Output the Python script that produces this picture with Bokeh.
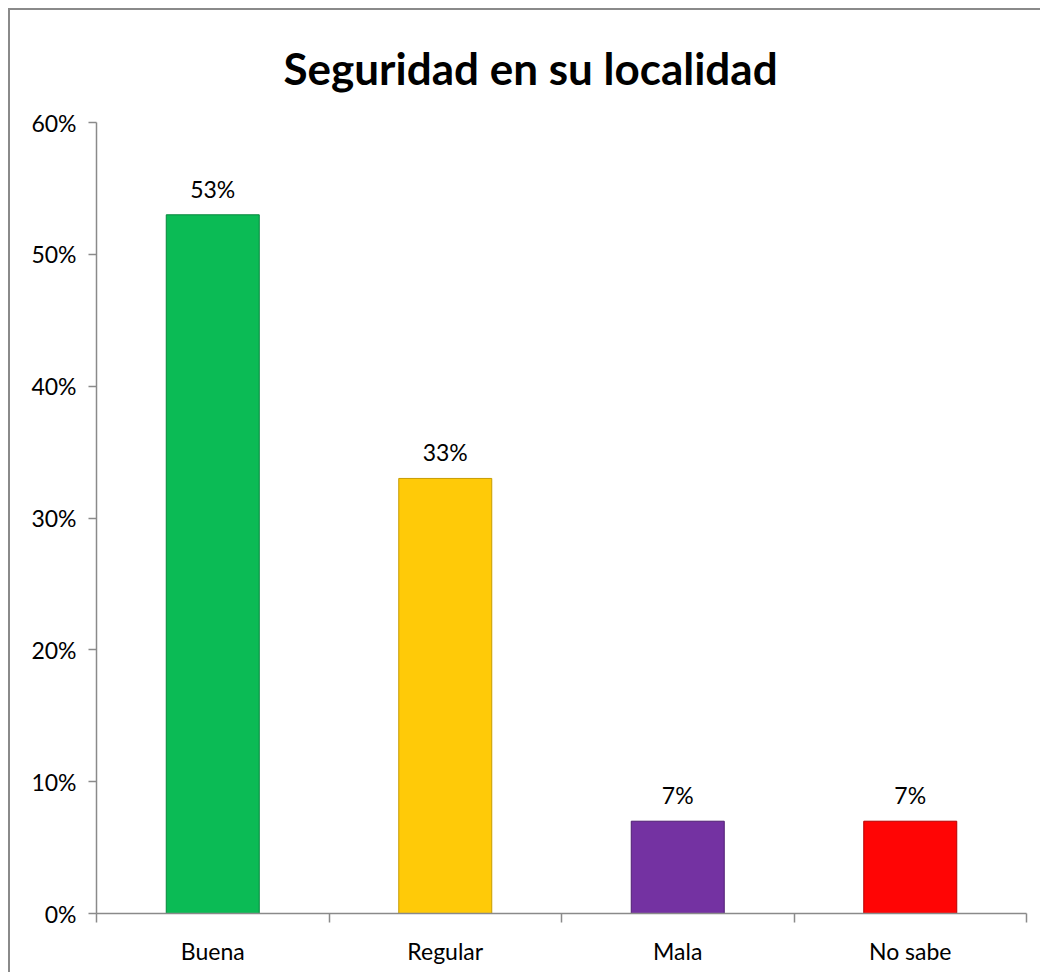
from bokeh.plotting import figure
from bokeh.models import ColumnDataSource, Range1d, FixedTicker, NumeralTickFormatter
from bokeh.core.properties import value
from bokeh.embed import file_html
from bokeh.resources import INLINE

categories = ["Buena", "Regular", "Mala", "No sabe"]
values = [0.53, 0.33, 0.07, 0.07]
labels = ["53%", "33%", "7%", "7%"]
colors = ["#0BBB55", "#FFCA08", "#7432A2", "#FF0505"]
edge_colors = ["#07863D", "#C79C00", "#4F1F72", "#B50000"]
title_text = "Seguridad en su localidad"

xs = [i + 0.5 for i in range(len(categories))]
src = ColumnDataSource(dict(x=xs, top=values, color=colors, edge=edge_colors, lab=labels))

FONT = "Lato"
p = figure(width=1032, height=964, output_backend="svg", toolbar_location=None,
           x_range=Range1d(0, len(categories)), y_range=Range1d(0, 0.6),
           min_border_left=86, min_border_right=16, min_border_top=112, min_border_bottom=61)
p.styles = {"border-left": "2px solid #8a8a8a", "border-top": "2px solid #8a8a8a",
            "margin-left": "8px", "margin-top": "8px"}
p.outline_line_color = None
p.xgrid.visible = False
p.ygrid.visible = False

p.title.text = title_text
p.title.align = "left"
p.title.offset = 187
p.title.standoff = 58
p.title.text_font = FONT
p.title.text_font_style = "bold"
p.title.text_font_size = "44px"
p.title.text_color = "#000000"

p.vbar(x="x", top="top", width=0.4, bottom=0, fill_color="color", line_color="edge",
       line_width=1, source=src)
p.text(x="x", y="top", text="lab", source=src, text_align="center", text_baseline="alphabetic",
       y_offset=-26, text_font=value(FONT), text_font_size="23px", text_color="#000000")

# y axis
ya = p.yaxis[0]
ya.ticker = FixedTicker(ticks=[i / 10 for i in range(7)], minor_ticks=[])
ya.formatter = NumeralTickFormatter(format="0%")
ya.axis_line_color = "#8a8a8a"
ya.axis_line_width = 1.5
ya.major_tick_line_color = "#8a8a8a"
ya.major_tick_line_width = 1.5
ya.major_tick_out = 8
ya.major_tick_in = 0
ya.major_label_standoff = 12
ya.major_label_text_font = FONT
ya.major_label_text_font_size = "23px"
ya.major_label_text_color = "#000000"

# x axis
xa = p.xaxis[0]
xa.ticker = FixedTicker(ticks=xs, minor_ticks=list(range(len(categories) + 1)))
xa.major_label_overrides = {x: c for x, c in zip(xs, categories)}
xa.axis_line_color = "#8a8a8a"
xa.axis_line_width = 1.5
xa.major_tick_line_color = None
xa.minor_tick_line_color = "#8a8a8a"
xa.minor_tick_line_width = 1.5
xa.minor_tick_out = 9
xa.minor_tick_in = 0
xa.major_label_standoff = 14
xa.major_label_text_font = FONT
xa.major_label_text_font_size = "23px"
xa.major_label_text_color = "#000000"

open("out.html", "w").write(file_html(p, INLINE))
